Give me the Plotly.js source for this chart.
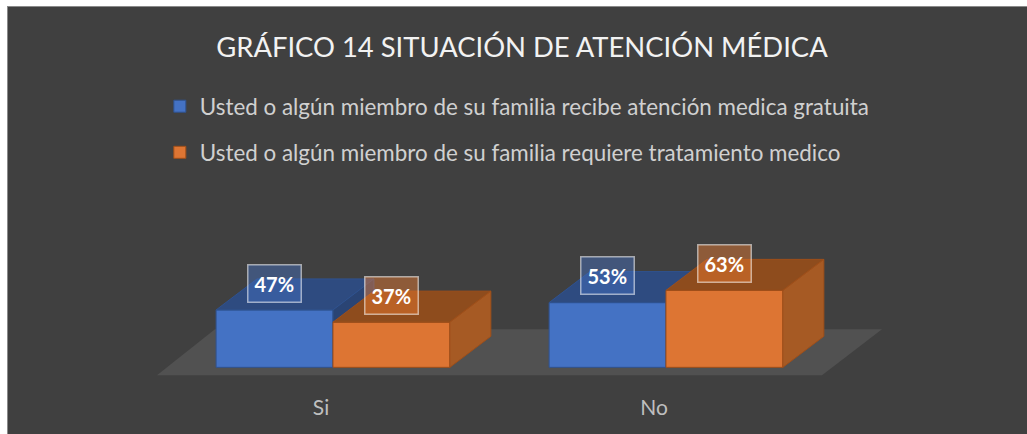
<!DOCTYPE html>
<html>
<head>
<meta charset="utf-8">
<script src="https://cdn.plot.ly/plotly-3.0.1.min.js"></script>
<style>
  html, body { margin: 0; padding: 0; background: #ffffff; width: 1027px; height: 434px; overflow: hidden; }
  #chart { position: absolute; left: 8px; top: 7px; width: 1019px; height: 427px; }
  #edge { position: absolute; left: 7px; top: 6px; width: 1020px; height: 428px; background: #8a8a8a; }
</style>
</head>
<body>
<div id="edge"></div>
<div id="chart"></div>
<script>
// ---- data ----
const categories = ['Si', 'No'];
const seriesNames = [
  'Usted o algún miembro de su familia recibe atención medica gratuita',
  'Usted o algún miembro de su familia requiere tratamiento medico'
];
const recibeAtencion = [47, 53];
const requiereTratamiento = [37, 63];
const chartTitle = 'GRÁFICO 14 SITUACIÓN DE ATENCIÓN MÉDICA';

// ---- style / geometry constants ----
const BAR_W = 0.351;      // width of each bar's front face (category units)
const DEPTH_X = 0.123;    // pseudo-3D depth, horizontal (category units)
const DEPTH_Y = 25.4;     // pseudo-3D depth, vertical (value units)
const LABEL_LIFT = 22;
const FONT = 'Lato, "Open Sans", sans-serif';

const styles = [
  {front: '#4472c4', top: '#2e4b80', side: '#2a4474', edge: '#2f528f',
   labelBg: 'rgba(68,114,196,0.45)', offset: -BAR_W, axes: ['x', 'y']},
  {front: '#dd7533', top: '#8e4c1d', side: '#a65a24', edge: '#a04f19',
   labelBg: 'rgba(237,125,49,0.45)', offset: 0, axes: ['x2', 'y2']}
];
const seriesValues = [recibeAtencion, requiereTratamiento];

const idx = categories.map((c, i) => i);
const traces = [];
const annotations = [];

seriesValues.forEach((vals, s) => {
  const st = styles[s];
  // front faces: real bars
  traces.push({
    type: 'bar', name: seriesNames[s], x: idx, y: vals, base: 0,
    width: BAR_W, offset: st.offset,
    xaxis: st.axes[0], yaxis: st.axes[1],
    marker: {color: st.front, line: {color: st.edge, width: 1}},
    legendgroup: 'g' + s, hoverinfo: 'skip'
  });
  // top faces and side faces computed from the values
  const tx = [], ty = [], sx = [], sy = [];
  vals.forEach((v, i) => {
    const xl = i + st.offset, xr = xl + BAR_W;
    tx.push(xl, xr, xr + DEPTH_X, xl + DEPTH_X, xl, null);
    ty.push(v, v, v + DEPTH_Y, v + DEPTH_Y, v, null);
    sx.push(xr, xr + DEPTH_X, xr + DEPTH_X, xr, xr, null);
    sy.push(0, DEPTH_Y, v + DEPTH_Y, v, 0, null);
    annotations.push({
      xref: 'x', yref: 'y', x: xl + BAR_W / 2, y: v + LABEL_LIFT,
      text: '<b>' + v + '%</b>', showarrow: false,
      font: {family: FONT, size: 20, color: '#ffffff'},
      bgcolor: st.labelBg, bordercolor: 'rgba(255,255,255,0.55)',
      borderwidth: 1.5, borderpad: 6
    });
  });
  [[tx, ty, st.top], [sx, sy, st.side]].forEach(([fx, fy, col]) => {
    traces.push({
      type: 'scatter', mode: 'lines', x: fx, y: fy, fill: 'toself',
      fillcolor: col, line: {color: st.edge, width: 1},
      xaxis: st.axes[0], yaxis: st.axes[1],
      showlegend: false, hoverinfo: 'skip'
    });
  });
});

const XR = [-0.5495, 1.6727];
const YR = [-12, 110];

const layout = {
  width: 1019, height: 427,
  paper_bgcolor: '#404040', plot_bgcolor: 'rgba(0,0,0,0)',
  margin: {l: 142, r: 137, t: 226, b: 52, pad: 0, autoexpand: false},
  barmode: 'overlay',
  font: {family: FONT, color: '#d9d9d9'},
  title: {
    text: chartTitle, x: 0.5044, xanchor: 'center', y: 0.906, yanchor: 'middle',
    font: {family: FONT, size: 27.4, color: '#f2f2f2'}
  },
  showlegend: true,
  legend: {
    xref: 'container', yref: 'container', x: 0.149, xanchor: 'left',
    y: 0.817, yanchor: 'top', orientation: 'v', tracegroupgap: 14,
    font: {family: FONT, size: 22.4, color: '#d0d0d0'}, bgcolor: 'rgba(0,0,0,0)'
  },
  xaxis: {
    range: XR, showgrid: false, zeroline: false, showline: false, ticks: '',
    tickvals: idx.map(i => i - 0.036), ticktext: categories,
    tickfont: {family: FONT, size: 21, color: '#bfbfbf'}, ticklabelstandoff: 11,
    fixedrange: true, automargin: false
  },
  yaxis: {range: YR, visible: false, showgrid: false, zeroline: false, fixedrange: true},
  xaxis2: {range: XR, overlaying: 'x', anchor: 'y2', visible: false, fixedrange: true},
  yaxis2: {range: YR, overlaying: 'y', anchor: 'x2', visible: false, fixedrange: true},
  shapes: [{
    type: 'path', xref: 'x', yref: 'y', layer: 'below',
    path: 'M -0.5285,-6.55 L 1.4685,-6.55 L 1.6486,31.1 L -0.3544,31.1 Z',
    fillcolor: '#515151', line: {width: 0}
  }],
  annotations: annotations
};

Plotly.newPlot('chart', traces, layout, {staticPlot: true, displayModeBar: false});
</script>
</body>
</html>
